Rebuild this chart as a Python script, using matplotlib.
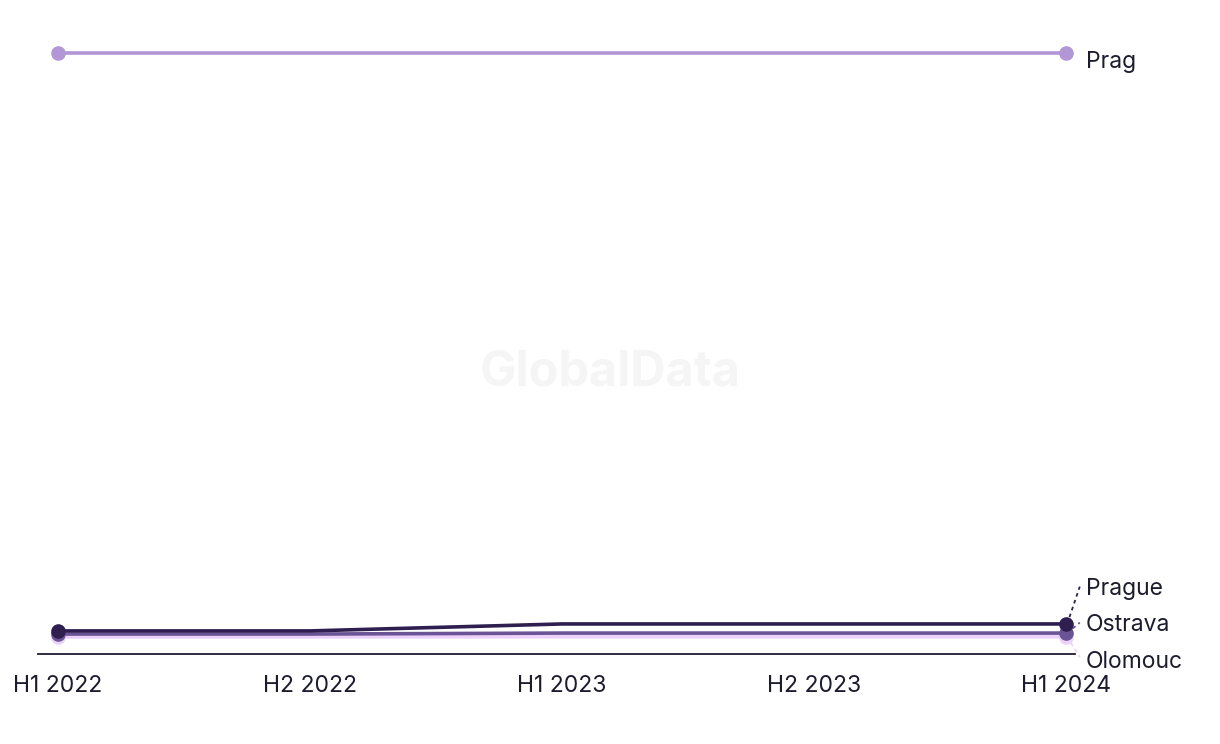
import matplotlib
matplotlib.use("Agg")
import matplotlib.pyplot as plt

plt.rcParams['font.family'] = ['Inter', 'DejaVu Sans']

# data
periods = ['H1 2022', 'H2 2022', 'H1 2023', 'H2 2023', 'H1 2024']
prag = [2500, 2500, 2500, 2500, 2500]
prague = [96, 96, 125, 125, 125]
ostrava = [83, 83, 87, 87, 87]
olomouc = [71, 71, 72, 72, 72]

series = [
    ('Olomouc', olomouc, '#ecd2fa'),
    ('Ostrava', ostrava, '#6b5496'),
    ('Prague', prague, '#2f1f50'),
    ('Prag', prag, '#b296d6'),
]
text_col = '#1c1c2e'

fig = plt.figure(figsize=(12.2, 7.44), dpi=100)
ax = fig.add_axes([38/1220, 1 - 654/744, (1075-38)/1220, (654-53)/744])
x = list(range(len(periods)))

for name, vals, col in series:
    ax.plot(x, vals, color=col, lw=2.6, solid_capstyle='round', zorder=3, clip_on=False)
    ax.plot([x[0], x[-1]], [vals[0], vals[-1]], 'o', color=col, ms=9.5, zorder=4, clip_on=False)

ax.set_xlim(-0.079, 4.036)
ax.set_ylim(0, 2500)

# end labels, placed by pixel rows
lab_y = {'Prag': 2500 - 9/0.2404, 'Prague': (654-589)/0.2404,
         'Ostrava': (654-625)/0.2404, 'Olomouc': (654-662)/0.2404}
for name, vals, col in series:
    ax.text(4.08, lab_y[name], name, fontsize=16.5, color=text_col,
            va='center', ha='left', clip_on=False)
    if name != 'Prag':
        ax.plot([4.005, 4.055], [vals[-1], lab_y[name] + (10 if name != 'Olomouc' else 20)],
                ls=(0, (2, 2)), lw=1.3, color=col, clip_on=False, zorder=2)

ax.text(0.5, 1 - 373/744, 'GlobalData', transform=fig.transFigure, fontsize=35,
        fontweight='bold', color='#f5f5f5', ha='center', va='center', zorder=0)

for s in ['top', 'right', 'left']:
    ax.spines[s].set_visible(False)
ax.spines['bottom'].set_color(text_col)
ax.spines['bottom'].set_linewidth(1.3)
ax.set_yticks([])
ax.set_xticks(x)
ax.set_xticklabels(periods, fontsize=16.5, color=text_col)
ax.tick_params(axis='x', length=0, pad=15)

fig.savefig('out.png', dpi=100)
